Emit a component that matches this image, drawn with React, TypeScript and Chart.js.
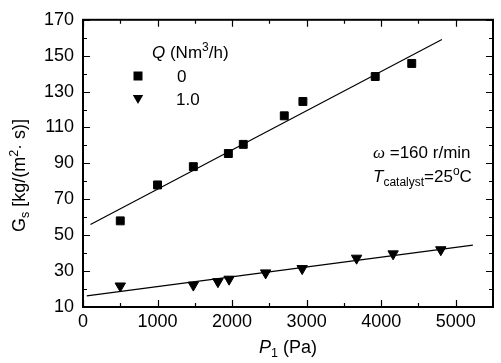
import React, { useEffect, useRef } from 'react';
import { Chart, registerables } from 'chart.js';

Chart.register(...registerables);

// ---- data ----
const sqP = [500, 1000, 1480, 1950, 2150, 2700, 2950, 3920, 4410];
const sqG = [58, 78, 88.2, 95.5, 100.6, 116.5, 124.5, 138.4, 145.7];
const triP = [500, 1480, 1810, 1960, 2450, 2940, 3670, 4160, 4800];
const triG = [21.7, 22.2, 24.1, 25.5, 29.0, 31.4, 37.2, 39.6, 41.9];
const fit0P = [100, 4815];
const fit0G = [56.0, 159];
const fit1P = [50, 5230];
const fit1G = [16.2, 44.5];
const seriesLabels = ['0', '1.0'];

const xMajor = [0, 1000, 2000, 3000, 4000, 5000];
const xMinor = [500, 1500, 2500, 3500, 4500];
const yMajor = [10, 30, 50, 70, 90, 110, 130, 150, 170];
const yMinor = [20, 40, 60, 80, 100, 120, 140, 160];

const SANS = '"Liberation Sans", Arial, sans-serif';
const SERIF = '"Liberation Serif", "Times New Roman", serif';

type Seg = { t: string; font: string; dy?: number };

function richWidth(ctx: CanvasRenderingContext2D, segs: Seg[]) {
  let w = 0;
  for (const s of segs) {
    ctx.font = s.font;
    w += ctx.measureText(s.t).width;
  }
  return w;
}

function drawRich(ctx: CanvasRenderingContext2D, segs: Seg[], x: number, y: number, center = false) {
  ctx.textAlign = 'left';
  ctx.textBaseline = 'alphabetic';
  let cx = center ? x - richWidth(ctx, segs) / 2 : x;
  for (const s of segs) {
    ctx.font = s.font;
    ctx.fillText(s.t, cx, y + (s.dy || 0));
    cx += ctx.measureText(s.t).width;
  }
}

function drawSquare(ctx: CanvasRenderingContext2D, x: number, y: number, side: number) {
  ctx.fillRect(x - side / 2, y - side / 2, side, side);
}

function drawTriDown(ctx: CanvasRenderingContext2D, x: number, y: number, r: number) {
  ctx.beginPath();
  ctx.moveTo(x, y + r);
  ctx.lineTo(x - r * 0.866, y - r / 2);
  ctx.lineTo(x + r * 0.866, y - r / 2);
  ctx.closePath();
  ctx.fill();
}

const decorPlugin = {
  id: 'decor',
  afterDraw(chart: any) {
    const ctx: CanvasRenderingContext2D = chart.ctx;
    const { left, right, top, bottom } = chart.chartArea;
    const xs = chart.scales.x;
    const ys = chart.scales.y;
    ctx.save();
    ctx.strokeStyle = '#000';
    ctx.fillStyle = '#000';

    // ticks (inward, all four sides)
    ctx.lineWidth = 1.2;
    const tickX = (vals: number[], len: number) => {
      for (const v of vals) {
        const px = Math.round(xs.getPixelForValue(v)) + 0.5;
        ctx.beginPath();
        ctx.moveTo(px, bottom);
        ctx.lineTo(px, bottom - len);
        ctx.moveTo(px, top);
        ctx.lineTo(px, top + len);
        ctx.stroke();
      }
    };
    const tickY = (vals: number[], len: number) => {
      for (const v of vals) {
        const py = Math.round(ys.getPixelForValue(v)) + 0.5;
        ctx.beginPath();
        ctx.moveTo(left, py);
        ctx.lineTo(left + len, py);
        ctx.moveTo(right, py);
        ctx.lineTo(right - len, py);
        ctx.stroke();
      }
    };
    tickX(xMajor, 7);
    tickX(xMinor, 4);
    tickY(yMajor, 7);
    tickY(yMinor, 4);

    // frame
    ctx.lineWidth = 2;
    ctx.strokeRect(left, top, right - left, bottom - top);

    // x title
    drawRich(
      ctx,
      [
        { t: 'P', font: `italic 18px ${SANS}` },
        { t: '1', font: `12.5px ${SANS}`, dy: 4 },
        { t: ' (Pa)', font: `18px ${SANS}` },
      ],
      (left + right) / 2,
      353,
      true
    );

    // y title (rotated)
    ctx.save();
    ctx.translate(25, 175.5);
    ctx.rotate(-Math.PI / 2);
    drawRich(
      ctx,
      [
        { t: 'G', font: `18px ${SANS}` },
        { t: 's', font: `12.5px ${SANS}`, dy: 4 },
        { t: ' [kg/(m', font: `18px ${SANS}` },
        { t: '2', font: `12.5px ${SANS}`, dy: -7.5 },
        { t: '· s)]', font: `18px ${SANS}` },
      ],
      0,
      0,
      true
    );
    ctx.restore();

    // legend
    drawRich(
      ctx,
      [
        { t: 'Q', font: `italic 17px ${SANS}` },
        { t: ' (Nm', font: `17px ${SANS}` },
        { t: '3', font: `12px ${SANS}`, dy: -7 },
        { t: '/h)', font: `17px ${SANS}` },
      ],
      152,
      58
    );
    drawSquare(ctx, 138, 76, 9);
    drawTriDown(ctx, 138, 98, 6);
    drawRich(ctx, [{ t: seriesLabels[0], font: `17px ${SANS}` }], 177, 82);
    drawRich(ctx, [{ t: seriesLabels[1], font: `17px ${SANS}` }], 176, 105);

    // annotations
    drawRich(
      ctx,
      [
        { t: 'ω', font: `italic 17px ${SERIF}` },
        { t: ' =160 r/min', font: `17px ${SANS}` },
      ],
      373,
      158
    );
    drawRich(
      ctx,
      [
        { t: 'T', font: `italic 17px ${SANS}` },
        { t: 'catalyst', font: `12px ${SANS}`, dy: 4 },
        { t: '=25', font: `17px ${SANS}` },
        { t: 'o', font: `12px ${SANS}`, dy: -7 },
        { t: 'C', font: `17px ${SANS}` },
      ],
      373,
      182
    );

    ctx.restore();
  },
};

export default function App() {
  const ref = useRef<HTMLCanvasElement | null>(null);

  useEffect(() => {
    if (!ref.current) return;
    const toXY = (xs: number[], ys: number[]) => xs.map((x, i) => ({ x, y: ys[i] }));
    const chart = new Chart(ref.current, {
      type: 'scatter',
      data: {
        datasets: [
          {
            label: seriesLabels[0],
            data: toXY(sqP, sqG),
            pointStyle: 'rect',
            pointRadius: 5.6,
            pointBorderWidth: 1,
            backgroundColor: '#000',
            borderColor: '#000',
            showLine: false,
          },
          {
            label: seriesLabels[1],
            data: toXY(triP, triG),
            pointStyle: 'triangle',
            rotation: 180,
            pointRadius: 6,
            pointBorderWidth: 1,
            backgroundColor: '#000',
            borderColor: '#000',
            showLine: false,
          },
          {
            label: 'fit0',
            data: toXY(fit0P, fit0G),
            showLine: true,
            pointRadius: 0,
            borderColor: '#000',
            borderWidth: 1.2,
          },
          {
            label: 'fit1',
            data: toXY(fit1P, fit1G),
            showLine: true,
            pointRadius: 0,
            borderColor: '#000',
            borderWidth: 1.2,
          },
        ],
      },
      options: {
        responsive: false,
        animation: false,
        layout: { padding: { top: 15, right: 8, left: 0, bottom: 0 } },
        plugins: { legend: { display: false }, tooltip: { enabled: false } },
        scales: {
          x: {
            type: 'linear',
            min: 0,
            max: 5500,
            grid: { display: false, drawTicks: false },
            border: { display: false },
            afterBuildTicks: (s: any) => {
              s.ticks = xMajor.map((v) => ({ value: v }));
            },
            afterFit: (s: any) => {
              s.height = 56;
            },
            ticks: {
              color: '#000',
              font: { family: SANS, size: 18 },
              padding: 4,
              maxRotation: 0,
              autoSkip: false,
              callback: (v: any) => String(v),
            },
          },
          y: {
            type: 'linear',
            min: 10,
            max: 170,
            grid: { display: false, drawTicks: false },
            border: { display: false },
            afterBuildTicks: (s: any) => {
              s.ticks = yMajor.map((v) => ({ value: v }));
            },
            afterFit: (s: any) => {
              s.width = 83;
            },
            ticks: {
              color: '#000',
              font: { family: SANS, size: 18 },
              padding: 9,
              autoSkip: false,
              callback: (v: any) => String(v),
            },
          },
        },
      },
      plugins: [decorPlugin],
    });
    return () => chart.destroy();
  }, []);

  return (
    <div style={{ position: 'fixed', left: 0, top: 0, width: 501, height: 363, background: '#fff' }}>
      <canvas ref={ref} width={501} height={363} />
    </div>
  );
}
